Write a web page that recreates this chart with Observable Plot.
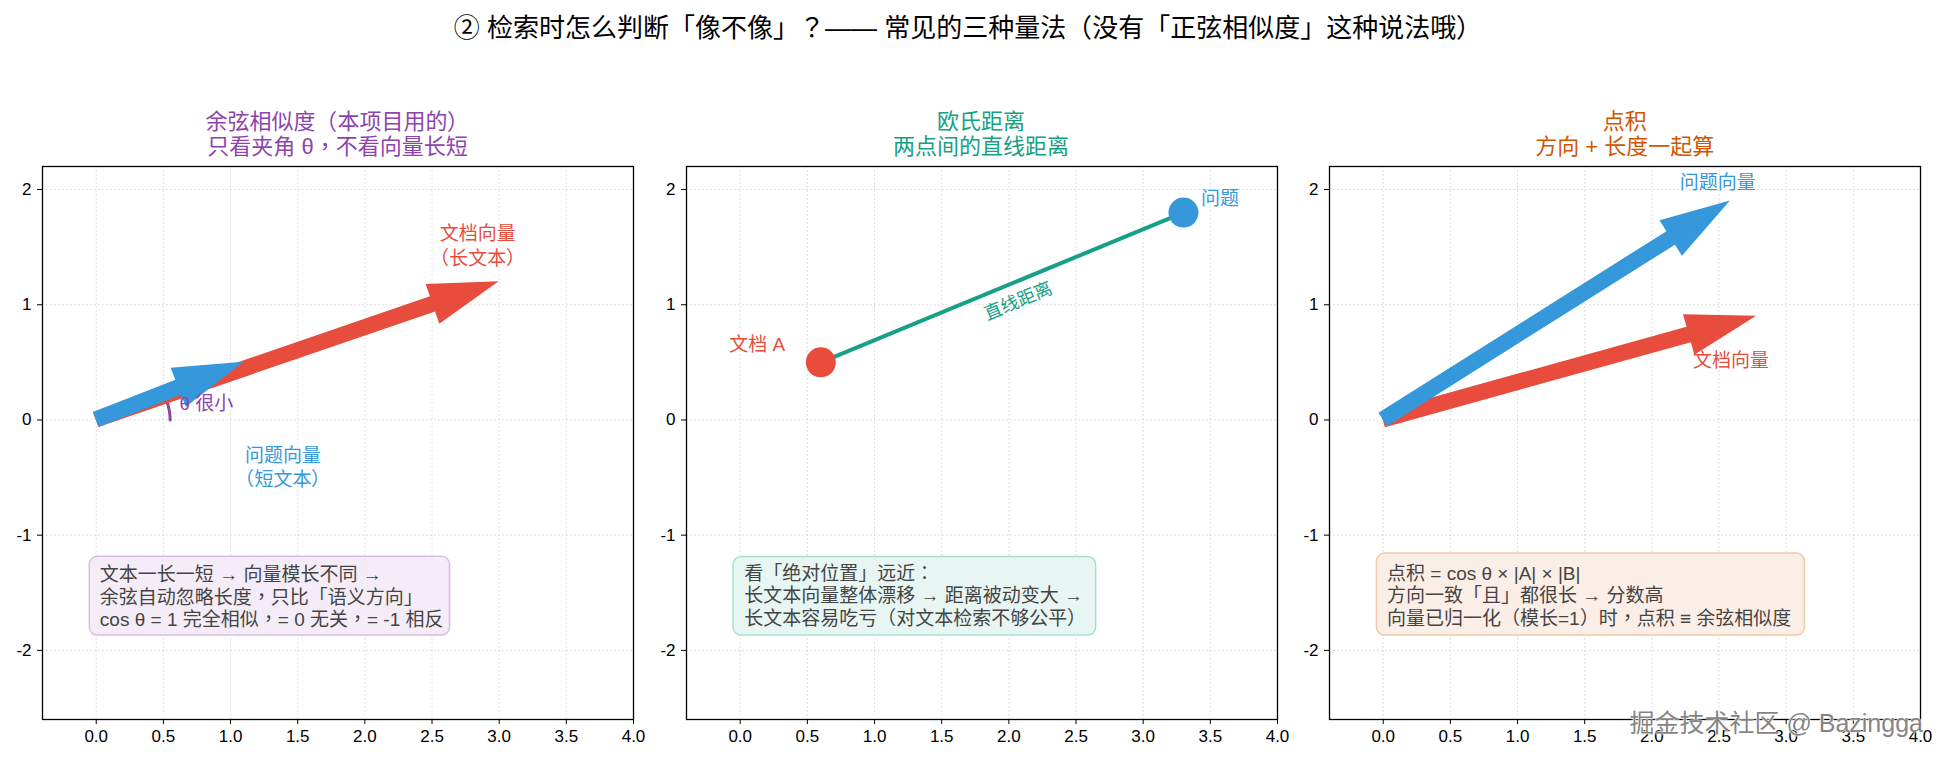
<!DOCTYPE html>
<html><head><meta charset="utf-8">
<script src="https://cdn.jsdelivr.net/npm/d3@7"></script>
<script src="https://cdn.jsdelivr.net/npm/@observablehq/plot@0.6"></script>
<style>
@font-face{font-family:"PunctTC";src:local("Noto Sans CJK KR Regular"),local("NotoSansCJKkr-Regular"),local("Noto Sans CJK KR");unicode-range:U+FF08-FF09;}
@font-face{font-family:"PunctTC";src:local("Noto Sans CJK TC Regular"),local("NotoSansCJKtc-Regular"),local("Noto Sans CJK TC");unicode-range:U+FF0C,U+FF1A,U+FF1F;}
body{margin:0;background:#fff;}
#fig{position:relative;width:1944px;height:763px;background:#fff;overflow:hidden;font-family:"Liberation Sans","PunctTC","Noto Sans CJK SC",sans-serif;}
.t{position:absolute;white-space:nowrap;transform:translate(-50%,-50%);text-align:center;}
.p{position:absolute;}
</style></head><body><div id="fig"></div>
<script>
// ---------- data ----------
const mainTitle = "② 检索时怎么判断「像不像」？—— 常见的三种量法（没有「正弦相似度」这种说法哦）";
const panelTitles = [
  ["余弦相似度（本项目用的）", "只看夹角 θ，不看向量长短"],
  ["欧氏距离", "两点间的直线距离"],
  ["点积", "方向 + 长度一起算"]
];
const panelColors = ["#8e44ad", "#16a085", "#d35400"];
const xTicks = [0, 0.5, 1, 1.5, 2, 2.5, 3, 3.5, 4];
const yTicks = [-2, -1, 0, 1, 2];
const xDomain = [-0.4, 4.0];
const yDomain = [-2.6, 2.2];
const RED = "#e74c3c", BLUE = "#3498db";

// panel 1: cosine
const cosVectors = [
  {name: "文档向量", x: 3.0, y: 1.2, color: RED},
  {name: "问题向量", x: 1.1, y: 0.5, color: BLUE}
];
const cosLabels = [
  {text: "文档向量\n（长文本）", x: 2.84, y: 1.52, color: RED},
  {text: "问题向量\n（短文本）", x: 1.39, y: -0.40, color: BLUE}
];
const cosArcRadius = 0.55;
const cosThetaLabel = {text: "θ 很小", x: 0.62, y: 0.14};
const cosNote = ["文本一长一短 → 向量模长不同 →", "余弦自动忽略长度，只比「语义方向」", "cos θ = 1 完全相似，= 0 无关，= -1 相反"];
const cosBox = {x1: -0.048, x2: 2.634, y1: -1.188, y2: -1.871, textX: 0.027, textY: -1.53};

// panel 2: euclidean
const eucPoints = [
  {name: "文档 A", x: 0.6, y: 0.5, color: RED},
  {name: "问题", x: 3.3, y: 1.8, color: BLUE}
];
const eucLabelA = {text: "文档 A", x: 0.335, y: 0.65};
const eucLabelQ = {text: "问题", x: 3.43, y: 1.92};
const eucLineLabel = {text: "直线距离", x: 2.07, y: 1.03, rotate: -22.5};
const eucNote = ["看「绝对位置」远近：", "长文本向量整体漂移 → 距离被动变大 →", "长文本容易吃亏（对文本检索不够公平）"];
const eucBox = {x1: -0.05, x2: 2.65, y1: -1.19, y2: -1.871, textX: 0.03, textY: -1.52};

// panel 3: dot product
const dotVectors = [
  {name: "文档向量", x: 2.78, y: 0.9, color: RED},
  {name: "问题向量", x: 2.585, y: 1.9, color: BLUE}
];
const dotLabels = [
  {text: "问题向量", x: 2.49, y: 2.06, color: BLUE},
  {text: "文档向量", x: 2.59, y: 0.51, color: RED}
];
const dotNote = ["点积 = cos θ × |A| × |B|", "方向一致「且」都很长 → 分数高", "向量已归一化（模长=1）时，点积 ≡ 余弦相似度"];
const dotBox = {x1: -0.047, x2: 3.14, y1: -1.16, y2: -1.871, textX: 0.028, textY: -1.52};

const watermark = "掘金技术社区 @ Bazingga";

// ---------- helpers ----------
const FONT = "Liberation Sans, PunctTC, Noto Sans CJK SC, sans-serif";

function fancyArrows(data, {shaft = 16, headWidth = 42, headLength = 70} = {}) {
  return Plot.link(data, {
    x1: () => 0, y1: () => 0, x2: "x", y2: "y",
    render(index, scales, values) {
      const g = d3.create("svg:g");
      for (const i of index) {
        const ax = values.x1[i], ay = values.y1[i], bx = values.x2[i], by = values.y2[i];
        const dx = bx - ax, dy = by - ay, L = Math.hypot(dx, dy);
        const ux = dx / L, uy = dy / L, nx = -uy, ny = ux;
        const cx = bx - ux * headLength, cy = by - uy * headLength;
        const s = shaft / 2, h = headWidth / 2;
        const pts = [[ax + nx * s, ay + ny * s], [cx + nx * s, cy + ny * s], [cx + nx * h, cy + ny * h], [bx, by],
                     [cx - nx * h, cy - ny * h], [cx - nx * s, cy - ny * s], [ax - nx * s, ay - ny * s]];
        g.append("path").attr("d", "M" + pts.map(p => p.join(",")).join("L") + "Z").attr("fill", data[i].color);
      }
      return g.node();
    }
  });
}

function noteMarks(lines, box, fill, stroke) {
  return [
    Plot.rect([box], {x1: "x1", x2: "x2", y1: "y1", y2: "y2", fill, stroke, strokeWidth: 1.5, rx: 8}),
    Plot.text([lines.join("\n")], {x: box.textX, y: box.textY, text: d => d, textAnchor: "start", lineAnchor: "middle",
      lineHeight: 1.2, fontSize: 19, fill: "#444", fontFamily: FONT})
  ];
}

function makePanel(marks) {
  return Plot.plot({
    width: 643, height: 607, marginTop: 10, marginBottom: 44, marginLeft: 42, marginRight: 10,
    x: {domain: xDomain}, y: {domain: yDomain},
    style: {fontFamily: FONT, fontSize: "17px", color: "#000", background: "transparent", overflow: "visible"},
    marks: [
      Plot.gridX(xTicks, {stroke: "#999", strokeOpacity: 0.4, strokeDasharray: "1.5,2.5"}),
      Plot.gridY(yTicks, {stroke: "#999", strokeOpacity: 0.4, strokeDasharray: "1.5,2.5"}),
      ...marks,
      Plot.frame({stroke: "#000", strokeWidth: 1.3}),
      Plot.axisX(xTicks, {tickSize: 5, tickPadding: 5, tickFormat: d => d.toFixed(1), label: null, fontSize: 17}),
      Plot.axisY(yTicks, {tickSize: 5, tickPadding: 6, tickFormat: d => String(d), label: null, fontSize: 17})
    ]
  });
}

// ---------- panels ----------
const angQ = Math.atan2(cosVectors[1].y, cosVectors[1].x);
const arcSteps = d3.range(0, 13).map(k => angQ * k / 12);
const arcPts = arcSteps.map(a => ({x: cosArcRadius * Math.cos(a), y: cosArcRadius * Math.sin(a)}));

const p1 = makePanel([
  Plot.line(arcPts, {x: "x", y: "y", stroke: "#8e44ad", strokeWidth: 3}),
  fancyArrows(cosVectors),
  Plot.text(cosLabels, {x: "x", y: "y", text: "text", fill: d => d.color, fontSize: 19, lineHeight: 1.3, lineAnchor: "middle", textAnchor: "middle", fontFamily: FONT}),
  Plot.text([cosThetaLabel], {x: "x", y: "y", text: "text", fill: "#8e44ad", fontSize: 19, textAnchor: "start", lineAnchor: "middle", fontFamily: FONT}),
  ...noteMarks(cosNote, cosBox, "#f4ecf7", "#d7bde2")
]);

const p2 = makePanel([
  Plot.line(eucPoints, {x: "x", y: "y", stroke: "#16a085", strokeWidth: 4}),
  Plot.dot(eucPoints, {x: "x", y: "y", r: 15, fill: d => d.color, stroke: "none"}),
  Plot.text([eucLabelA], {x: "x", y: "y", text: "text", fill: RED, textAnchor: "end", fontSize: 19, lineAnchor: "middle", fontFamily: FONT}),
  Plot.text([eucLabelQ], {x: "x", y: "y", text: "text", fill: BLUE, textAnchor: "start", fontSize: 19, lineAnchor: "middle", fontFamily: FONT}),
  Plot.text([eucLineLabel], {x: "x", y: "y", text: "text", rotate: eucLineLabel.rotate, fill: "#16a085", fontSize: 18, lineAnchor: "middle", textAnchor: "middle", fontFamily: FONT}),
  ...noteMarks(eucNote, eucBox, "#e8f6f3", "#a9dfd3")
]);

const p3 = makePanel([
  fancyArrows(dotVectors),
  Plot.text(dotLabels, {x: "x", y: "y", text: "text", fill: d => d.color, fontSize: 19, lineAnchor: "middle", textAnchor: "middle", fontFamily: FONT}),
  ...noteMarks(dotNote, dotBox, "#fbeee6", "#f0c8aa")
]);

// ---------- layout ----------
const fig = document.getElementById("fig");
function addText(html, x, y, style) {
  const d = document.createElement("div");
  d.className = "t";
  d.style.left = x + "px"; d.style.top = y + "px";
  Object.assign(d.style, style);
  d.innerHTML = html;
  fig.appendChild(d);
  return d;
}
addText(mainTitle, 968, 25, {fontSize: "26px", color: "#000"});
const panelLefts = [0, 643.5, 1287.3];
const panelCenters = [337.5, 981, 1624.8];
[p1, p2, p3].forEach((p, i) => {
  p.classList.add("p");
  p.style.left = panelLefts[i] + "px";
  p.style.top = "156px";
  fig.appendChild(p);
  addText(panelTitles[i].join("<br>"), panelCenters[i], 134, {fontSize: "22px", lineHeight: "25px", color: panelColors[i]});
});
const wm = document.createElement("div");
wm.textContent = watermark;
Object.assign(wm.style, {position: "absolute", right: "21px", top: "709px", fontSize: "25px", color: "rgba(110,110,110,0.85)",
  textShadow: "0 0 2px #fff, 0 0 2px #fff, 0 0 1px #fff", lineHeight: "29px", whiteSpace: "nowrap"});
fig.appendChild(wm);
</script>
</body></html>
